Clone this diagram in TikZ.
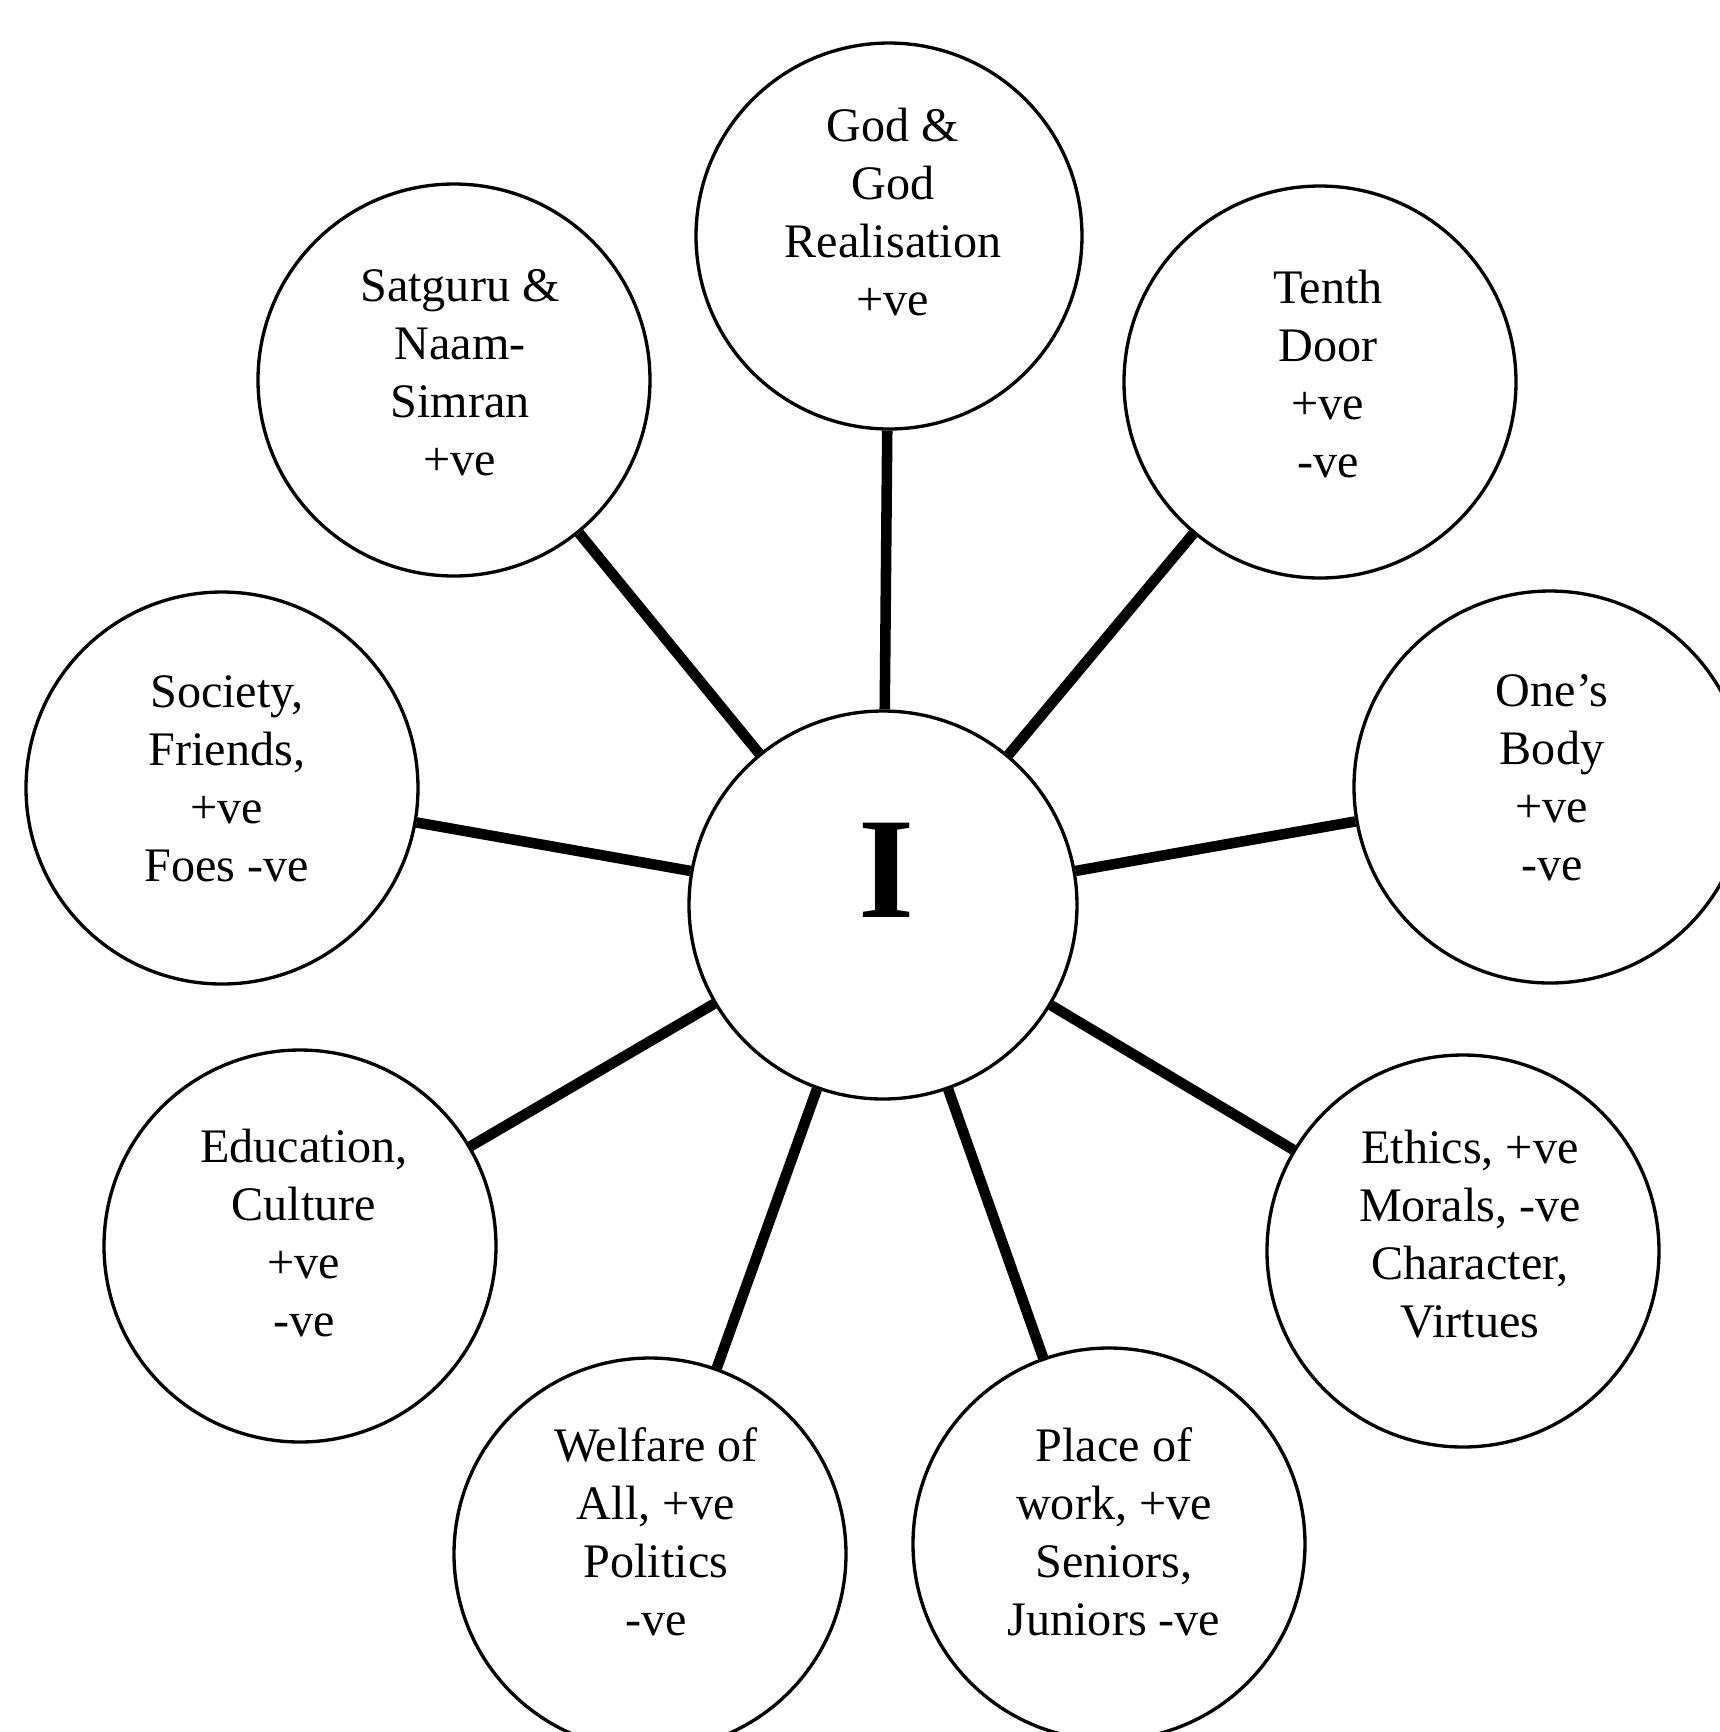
\documentclass[tikz,border=0pt]{standalone}
\usepackage{fontspec}
\setmainfont{Liberation Serif}
\begin{document}
\begin{tikzpicture}[x=0.1mm, y=-0.1mm, line width=3pt, ring/.style={circle,draw,line width=0.95pt,minimum size=39.2mm,inner sep=0pt}, lbl/.style={align=center,inner sep=0pt,font=\fontsize{13.7}{16.5}\selectfont}]
\useasboundingbox (0,0) rectangle (1720,1732);
\clip (0,0) rectangle (1720,1732);
\begin{scope}
\node[ring,minimum size=38.8mm] (self) at (883,905) {};
\node[ring,minimum size=38.6mm] (god) at (889,236) {};
\node[ring] (door) at (1320,382) {};
\node[ring] (body) at (1550,787) {};
\node[ring] (ethics) at (1463,1251) {};
\node[ring] (work) at (1109,1544) {};
\node[ring] (welfare) at (650,1554) {};
\node[ring] (edu) at (300,1246) {};
\node[ring] (society) at (222,788) {};
\node[ring] (satguru) at (454,380) {};
\end{scope}
\begin{scope}[every node/.style={lbl}]
\node[font=\fontsize{41}{41}\bfseries\selectfont] (self-t) at (887,870) {I};
\node (god-t) at (893,212) {God \&\\God\\Realisation\\+ve};
\node (door-t) at (1328,374) {Tenth\\Door\\+ve\\-ve};
\node (body-t) at (1552,778) {One's\\Body\\+ve\\-ve};
\node (ethics-t) at (1470,1234) {Ethics, +ve\\Morals, -ve\\Character,\\Virtues};
\node (work-t) at (1114,1532) {Place of\\work, +ve\\Seniors,\\Juniors -ve};
\node (welfare-t) at (656,1532) {Welfare of\\All, +ve\\Politics\\-ve};
\node (edu-t) at (304,1233) {Education,\\Culture\\+ve\\-ve};
\node (society-t) at (227,779) {Society,\\Friends,\\+ve\\Foes -ve};
\node (satguru-t) at (460,373) {Satguru \&\\Naam-\\Simran\\+ve};
\end{scope}
\begin{scope}
\draw (self) edge (god);
\draw (self) edge (door);
\draw (self) edge (body);
\draw (self) edge (ethics);
\draw (self) edge (work);
\draw (self) edge (welfare);
\draw (self) edge (edu);
\draw (self) edge (society);
\draw (self) edge (satguru);
\end{scope}
\end{tikzpicture}
\end{document}
